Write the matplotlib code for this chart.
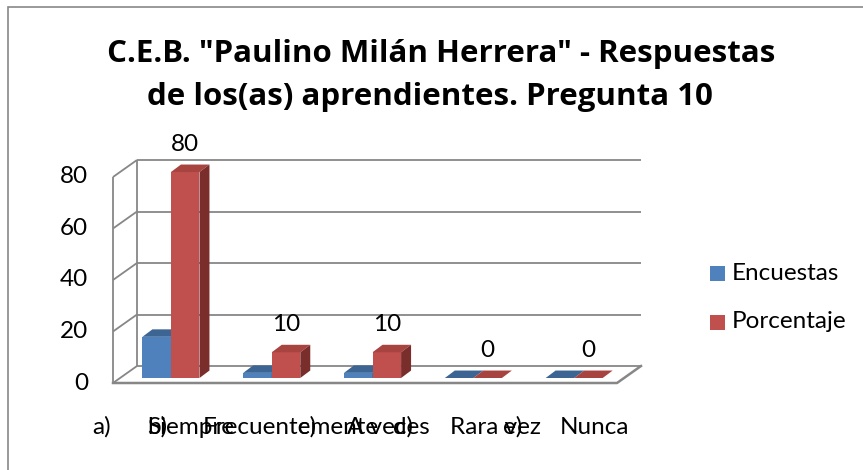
import matplotlib
matplotlib.use("Agg")
import matplotlib.pyplot as plt
from matplotlib.patches import Polygon, Rectangle

# data
prefixes = ["a)", "b)", "c)", "d)", "e)"]
categories = ["Siempre", "Frecuentemente", "A veces", "Rara vez", "Nunca"]
encuestas = [16, 2, 2, 0, 0]
porcentaje = [80, 10, 10, 0, 0]
yticks = [0, 20, 40, 60, 80]
series_names = ["Encuestas", "Porcentaje"]
title_lines = ['C.E.B. "Paulino Milán Herrera" - Respuestas',
               "de los(as) aprendientes. Pregunta 10"]

plt.rcParams["font.family"] = ["Lato", "DejaVu Sans"]
FS = 17.5

W, H = 863, 470
fig = plt.figure(figsize=(W / 100, H / 100), dpi=100)
ax = fig.add_axes([113 / W, (H - 383) / H, 504 / W, 206 / H])
ax.set_xlim(-0.5, 4.5)
ax.set_ylim(0, 80)
ax.axis("off")

GRID = "#878787"
DX, DY = 0.238, 6.6     # depth of the walls
SX, SY = 0.075, 1.94    # where the bars stand on the floor
BDX, BDY = 0.099, 2.9   # depth of a bar
BW = 0.283

blue = ("#4F81BD", "#3C6594", "#375C8A")
red = ("#C0504D", "#A84440", "#7A2E2C")

# walls and floor
kw = dict(color=GRID, lw=1.3, clip_on=False, zorder=1, solid_capstyle="butt")
x0, x1 = -0.5, 4.5
for v in yticks:
    ax.plot([x0 + DX, x1 + DX], [v + DY, v + DY], **kw)
    ax.plot([x0, x0 + DX], [v, v + DY], **kw)
ax.plot([x0, x0], [0, yticks[-1]], **kw)
ax.plot([x0 + DX, x0 + DX], [DY, yticks[-1] + DY], **kw)
ax.plot([x0, x1, x1 + DX], [0, 0, DY], color=GRID, lw=1.8, clip_on=False, zorder=1)

for k, v in enumerate(yticks):
    ax.annotate(str(v), (x0, v), xytext=(-18, 0), textcoords="offset points",
                ha="right", va="center", fontsize=FS, annotation_clip=False)


def draw_series(values, offset, cols, z):
    xs = [i + SX + offset for i in range(len(values))]
    ax.bar(xs, values, width=BW, bottom=SY, align="edge", color=cols[0],
           zorder=z, clip_on=False, lw=0)
    for x, v in zip(xs, values):
        top = SY + v
        ax.add_patch(Polygon([(x, top), (x + BW, top), (x + BW + BDX, top + BDY),
                              (x + BDX, top + BDY)], closed=True, color=cols[1],
                             lw=0, zorder=z, clip_on=False))
        if v > 0:
            ax.add_patch(Polygon([(x + BW, SY), (x + BW + BDX, SY + BDY),
                                  (x + BW + BDX, top + BDY), (x + BW, top)],
                                 closed=True, color=cols[2], lw=0, zorder=z,
                                 clip_on=False))
    return xs


draw_series(encuestas, -BW, blue, 3)
xs_red = draw_series(porcentaje, 0, red, 4)
for x, v in zip(xs_red, porcentaje):
    ax.annotate(str(v), (x + BW / 2, SY + v), xytext=(0, 20), textcoords="offset points",
                ha="center", va="center", fontsize=FS, annotation_clip=False)

# category labels (the tab in each label makes them overlap)
prefix_px = [92, 147, 298, 393, 503]
word_px = [147, 203, 347, 450, 560]
for p, w, a, b in zip(prefix_px, word_px, prefixes, categories):
    fig.text(p / W, 1 - 427 / H, a, ha="left", va="center", fontsize=FS)
    fig.text(w / W, 1 - 427 / H, b, ha="left", va="center", fontsize=FS)

# legend
for name, col, yc in zip(series_names, [blue[0], red[0]], [273, 322]):
    fig.patches.append(Rectangle((710 / W, 1 - (yc + 7.5) / H), 15 / W, 15 / H,
                                 transform=fig.transFigure, color=col, lw=0))
    fig.text(732 / W, 1 - yc / H, name, ha="left", va="center", fontsize=FS)

# title
tkw = dict(ha="center", va="baseline", fontsize=22.5, fontweight="bold",
           family=["Open Sans", "DejaVu Sans"])
fig.text(441 / W, 1 - 62 / H, title_lines[0], **tkw)
fig.text(430 / W, 1 - 105 / H, title_lines[1], **tkw)

# chart border
fig.patches.append(Rectangle((8 / W, -0.1), 2, 1 - 7 / H + 0.1, transform=fig.transFigure,
                             fill=False, edgecolor=GRID, lw=1.2))

fig.savefig("out.png", dpi=100)
